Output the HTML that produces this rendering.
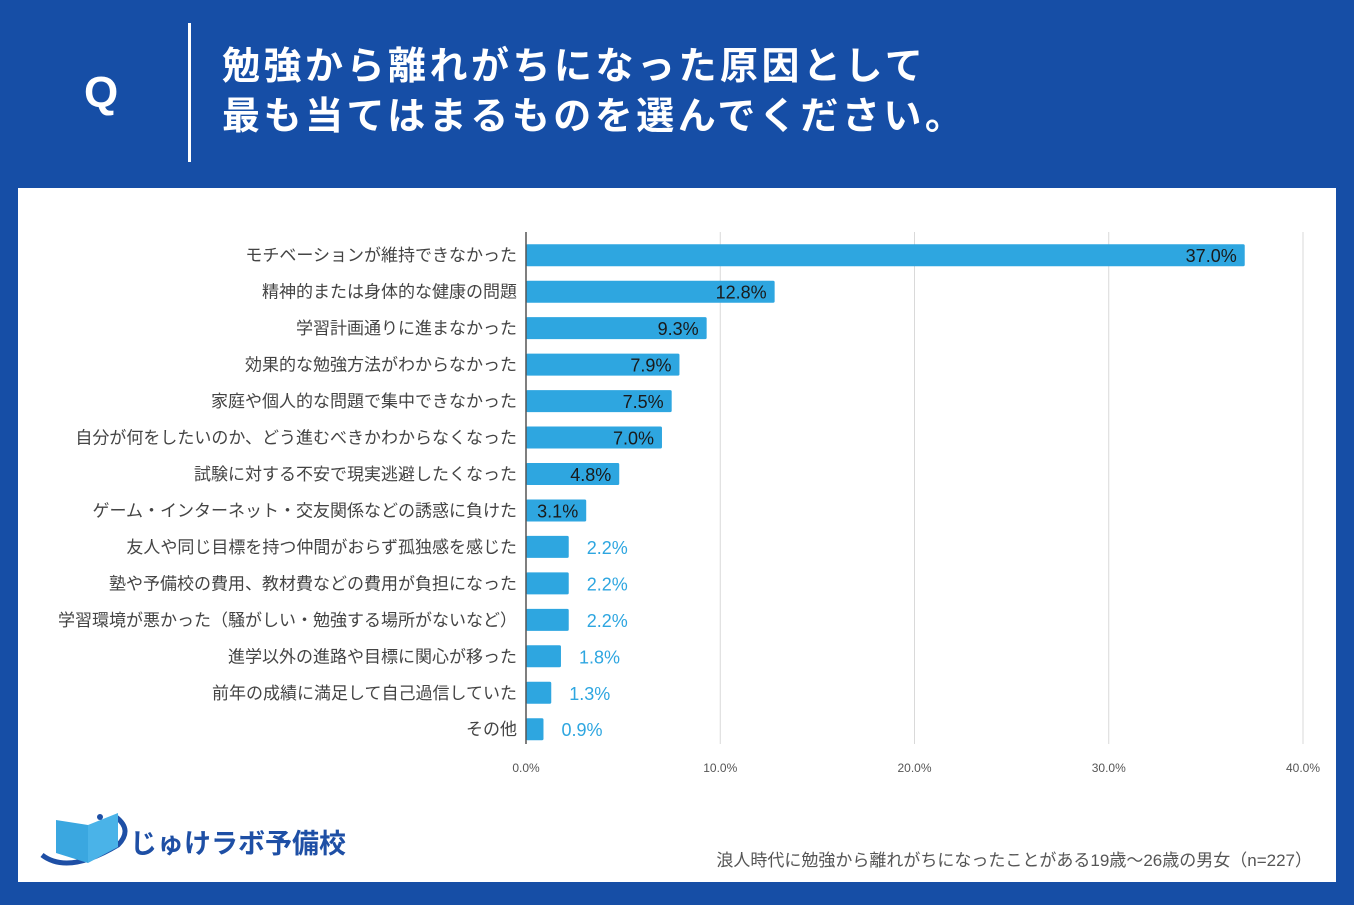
<!DOCTYPE html>
<html><head><meta charset="utf-8">
<style>
body{margin:0;width:1354px;height:905px;background:#164ea6;font-family:"Liberation Sans","Noto Sans CJK JP",sans-serif;overflow:hidden;position:relative}
.q{position:absolute;left:84px;top:68px;color:#fff;font-size:44px;font-weight:bold}
.vl{position:absolute;left:188px;top:23px;width:3px;height:139px;background:#fff}
.title{position:absolute;left:222px;top:42px;color:#fff;font-size:38px;font-weight:bold;line-height:50px;letter-spacing:3.5px;white-space:nowrap}
.panel{position:absolute;left:18px;top:188px;width:1318px;height:694px;background:#fff}
</style></head><body>
<div class="q">Q</div>
<div class="vl"></div>
<div class="title">勉強から離れがちになった原因として<br>最も当てはまるものを選んでください。</div>
<div class="panel"></div>
<svg id="chart" width="1354" height="905" style="position:absolute;left:0;top:0"></svg>
<script>
const categories=["モチベーションが維持できなかった","精神的または身体的な健康の問題","学習計画通りに進まなかった","効果的な勉強方法がわからなかった","家庭や個人的な問題で集中できなかった","自分が何をしたいのか、どう進むべきかわからなくなった","試験に対する不安で現実逃避したくなった","ゲーム・インターネット・交友関係などの誘惑に負けた","友人や同じ目標を持つ仲間がおらず孤独感を感じた","塾や予備校の費用、教材費などの費用が負担になった","学習環境が悪かった（騒がしい・勉強する場所がないなど）","進学以外の進路や目標に関心が移った","前年の成績に満足して自己過信していた","その他"];
const values=[37.0,12.8,9.3,7.9,7.5,7.0,4.8,3.1,2.2,2.2,2.2,1.8,1.3,0.9];
const ticks=[0,10,20,30,40];
const tickLabels=["0.0%","10.0%","20.0%","30.0%","40.0%"];
const NS="http://www.w3.org/2000/svg";
const svg=document.getElementById('chart');
const x0=526,x1=1303,vmax=40,yTop=237,step=36.46,bh=22;
const xs=v=>x0+(v/vmax)*(x1-x0);
const yc=i=>yTop+step*(i+0.5);
function mk(t,a){const e=document.createElementNS(NS,t);for(const k in a)e.setAttribute(k,a[k]);svg.appendChild(e);return e;}
ticks.forEach((t,i)=>{
 if(t>0){const g=mk('line',{x1:xs(t),x2:xs(t),y1:232,y2:744,stroke:'#d9d9d9','stroke-width':1});
 
 }
 const l=mk('text',{x:xs(t),y:772,'text-anchor':'middle','font-size':12,fill:'#555'});
 l.textContent=tickLabels[i];
 
 
});
categories.forEach((c,i)=>{
 const y=yc(i);
 const r=mk('rect',{x:x0,y:y-bh/2,width:xs(values[i])-x0,height:bh,fill:'#2ea6e0',rx:1.5});
 
 
 const lab=mk('text',{x:517,y:y+6,'text-anchor':'end','font-size':17,fill:'#444'});
 lab.textContent=c;
 
 
 const inside=values[i]>=3;
 const v=mk('text',{x:inside?xs(values[i])-8:xs(values[i])+18,y:y+7,'text-anchor':inside?'end':'start','font-size':18,fill:inside?'#1a1a1a':'#2ea6e0'});
 v.textContent=values[i].toFixed(1)+'%';
 
 
});
const ax=mk('line',{x1:x0,x2:x0,y1:232,y2:744,stroke:'#555','stroke-width':1.5});


</script>
<svg width="330" height="70" style="position:absolute;left:38px;top:805px">
 <path d="M4 50 Q30 70 80 40 Q95 25 78 12" fill="none" stroke="#1e4fa5" stroke-width="5"/>
 <path d="M18 15 L18 48 L50 58 L50 20 Z" fill="#3aa7e0"/>
 <path d="M50 20 L80 8 L80 42 L50 58 Z" fill="#4ab3e8"/>
 <circle cx="62" cy="12" r="3" fill="#1e4fa5"/>
 <text x="92" y="48" font-size="27" font-weight="bold" fill="#1e4fa5" font-family="Liberation Sans,Noto Sans CJK JP,sans-serif">じゅけラボ予備校</text>
</svg>
<div style="position:absolute;right:42px;top:846px;font-size:17px;color:#555">浪人時代に勉強から離れがちになったことがある19歳～26歳の男女（n=227）</div>
</body></html>
